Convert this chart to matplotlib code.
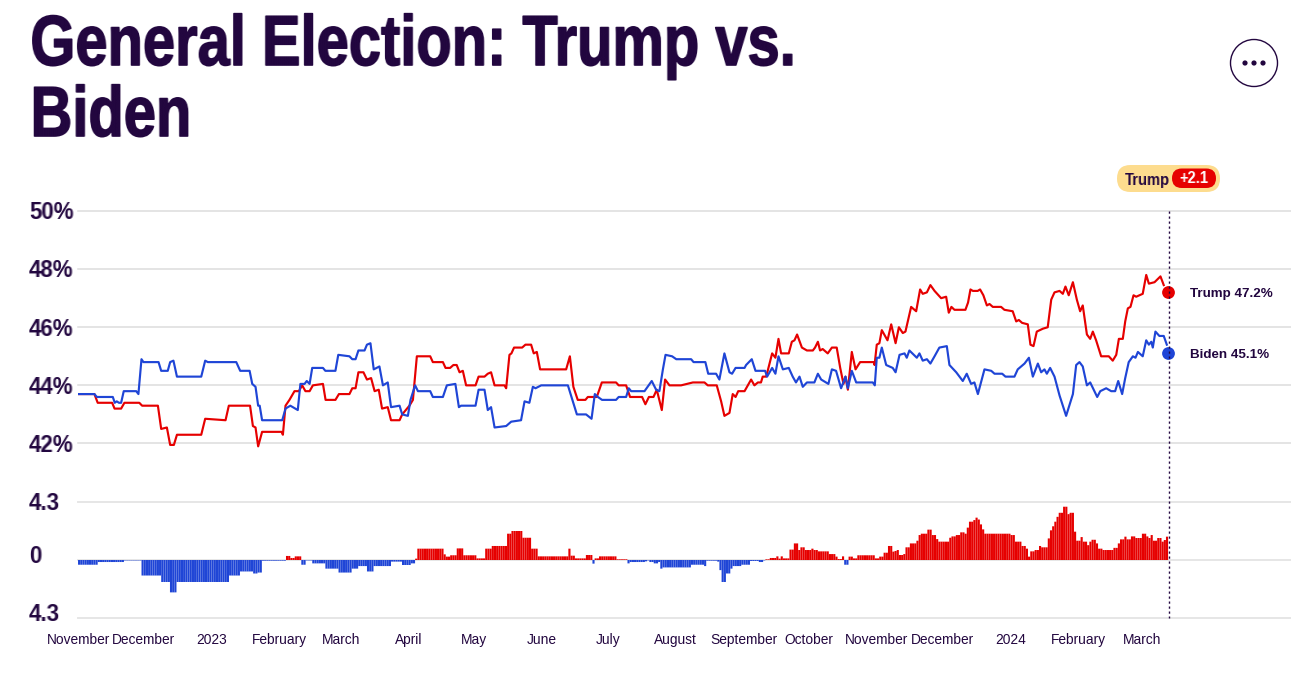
import matplotlib
matplotlib.use('Agg')
import matplotlib.pyplot as plt
import matplotlib.dates as mdates
import matplotlib.patheffects as pe
from matplotlib.patches import Circle, FancyBboxPatch
import numpy as np
from datetime import datetime

start = datetime(2022, 11, 1)

# days since start / poll average
trump_days = [0, 7.5, 9, 15.6, 16.7, 19.7, 21.2, 28, 29.3, 36.5, 38, 40.6, 42.1, 43.8, 45.2, 56.3, 58.1, 67.4, 68.9, 78.6,
              79.9, 81.1, 82.3, 84.1, 93, 93.6, 94.8, 96.6, 98.9, 100.9, 102.4, 103.9, 105.8, 107.3, 111.9, 113.1, 117.6,
              119.2, 124, 125.3, 126.8, 128.1, 130.4, 132, 133.9, 135.5, 137.4, 138.9, 141.5, 143, 146.9, 148.1, 151.4,
              153, 154.8, 160.9, 162.1, 166.7, 167.9, 170, 171.5, 173, 174.3, 175.8, 177.3, 181.6, 183, 185.7, 187.2,
              188.7, 190.3, 194.8, 195.6, 197.1, 198, 199.2, 202.9, 204.4, 207, 208.2, 209.6, 211.1, 223, 224.7, 226.3,
              228.3, 231.8, 232.9, 237, 239.3, 245.8, 247, 250.4, 252.2, 257.7, 259.2, 260.8, 262.9, 264.4, 266.7, 268.2,
              270.2, 275.5, 280.9, 286.2, 287.7, 291.8, 293.8, 295.3, 297.6, 299.1, 300.4, 301.6, 304.5, 306, 307.5, 309,
              310.6, 312, 312.8, 314.4, 317.1, 318.6, 320, 321.2, 324.7, 326.1, 327.3, 328.5, 330.7, 333, 335.7, 336.7,
              338, 339, 340.2, 342.5, 344.4, 346.6, 348.2, 349.7, 350.6, 351.7, 353.5, 355.2, 357.3, 363.6, 363.9, 364.9,
              366.1, 367.2, 368.7, 369.8, 371.5, 373.5, 375, 376.8, 378, 380.6, 382.9, 384.7, 385.9, 387.8, 389.4, 391.3,
              394.3, 396.6, 397.8, 399, 400.4, 405.4, 406.6, 407.7, 408.8, 411, 412.1, 413.6, 415.2, 416.4, 417.9, 421.7,
              423.2, 427, 428.6, 429.8, 431.3, 433.9, 435.1, 436.5, 438, 440.8, 443, 444.6, 446.1, 448.4, 449.9, 451.1,
              452.6, 454.5, 456.3, 457.8, 459, 460.9, 462.4, 463.6, 465.1, 467.4, 470.9, 472.7, 474.3, 475.5, 477.3,
              478.4, 479.6, 480.8, 482.2, 483.4, 486.4, 488, 489.2, 491.8, 494.5, 496]
trump_vals = [43.7, 43.7, 43.4, 43.4, 43.2, 43.2, 43.4, 43.4, 43.3, 43.3, 42.5, 42.55, 41.95, 41.95, 42.3, 42.3, 42.85, 42.8,
              43.3, 43.3, 42.6, 42.55, 41.9, 42.4, 42.4, 42.3, 43.3, 43.5, 43.8, 43.8, 44.0, 43.8, 43.8, 44.0, 44.05, 43.5,
              43.5, 43.7, 43.7, 43.9, 43.9, 44.45, 44.45, 44.2, 44.25, 43.8, 43.85, 43.2, 43.25, 42.8, 42.8, 43.0, 43.3,
              43.5, 45.0, 45.0, 44.8, 44.8, 44.6, 44.6, 44.7, 44.7, 44.45, 44.5, 44.0, 44.0, 44.3, 44.3, 44.4, 44.45, 44.0,
              44.0, 43.9, 45.05, 45.1, 45.3, 45.3, 45.4, 45.4, 45.1, 45.15, 44.55, 44.55, 45.0, 43.95, 43.5, 43.5, 43.6,
              43.6, 44.1, 44.1, 44.0, 44.0, 43.6, 43.6, 43.35, 43.6, 43.6, 43.85, 43.15, 44.2, 44.0, 44.0, 44.1, 44.1, 44.0,
              44.0, 43.45, 42.95, 43.05, 43.7, 43.6, 43.8, 43.8, 44.0, 44.2, 44.0, 44.1, 44.1, 44.3, 44.3, 45.1, 44.95,
              45.6, 45.1, 45.1, 45.5, 45.55, 45.75, 45.3, 45.2, 45.2, 45.3, 45.5, 45.2, 45.25, 45.1, 45.3, 45.3, 44.6, 44.05,
              44.3, 43.85, 45.15, 44.55, 44.8, 44.8, 44.7, 45.4, 45.45, 45.9, 45.7, 45.55, 46.1, 45.45, 46.0, 45.8, 45.85,
              46.7, 46.55, 47.3, 47.15, 47.2, 47.45, 47.25, 47.0, 47.05, 46.5, 46.7, 46.6, 46.6, 46.85, 47.3, 47.25, 47.25,
              47.3, 47.1, 46.75, 46.8, 46.7, 46.7, 46.6, 46.55, 46.2, 46.25, 46.15, 46.1, 45.4, 45.35, 45.85, 45.95, 46.0,
              46.95, 47.2, 47.25, 47.15, 47.4, 47.1, 47.55, 46.95, 46.55, 46.75, 45.75, 45.6, 45.85, 45.55, 45.0, 45.0,
              44.85, 45.05, 45.6, 45.6, 46.2, 46.65, 46.7, 47.1, 47.05, 47.15, 47.8, 47.5, 47.55, 47.75, 47.45]

biden_days = [0, 7.5, 8.6, 15.9, 16.8, 17.7, 18.7, 19.7, 20.9, 26.6, 27.6, 29, 29.9, 36.8, 38, 41, 42.1, 43.6, 45.2, 56.3,
              58.1, 59.3, 72.3, 74.1, 78.4, 79.6, 81.1, 82.3, 83, 84.1, 93.3, 94.8, 97, 100.4, 101.6, 103.5, 104.5, 105.8,
              107, 111.9, 113, 117.6, 118.9, 124, 125.3, 126.8, 128.1, 130.9, 132, 133.6, 135.1, 137.7, 139.3, 141.5, 143,
              146.9, 148.1, 150.7, 151.9, 154, 155.3, 160.9, 162.1, 166.7, 168.5, 172.4, 174, 175, 181.6, 183, 185.7, 187.2,
              188.7, 190.3, 195.6, 197.9, 202.4, 204, 206.2, 207.8, 209, 211.6, 223.8, 227.9, 232.1, 234.6, 236.1, 237.5,
              239.4, 245.8, 247, 250.4, 251.6, 252.7, 258.8, 262.1, 264.1, 265.6, 267.2, 268.4, 271.4, 273.3, 280.1, 281.2,
              286.6, 287.9, 291.5, 293, 295.3, 297.6, 298.8, 300.4, 304.5, 305.2, 307.8, 309.5, 313.9, 314.8, 317.1, 318.6,
              320, 322, 324.7, 326.5, 328, 329.6, 331.1, 333, 336.4, 338, 339.5, 342.8, 344.4, 346.3, 348.6, 350.6, 351.7,
              353.5, 355.5, 363.1, 364, 364.9, 366.1, 367.2, 369.2, 372.2, 373.5, 375.3, 377.6, 378.6, 379.8, 383.2, 384.4,
              385.9, 387.8, 389.4, 391.3, 393.5, 396.9, 398.1, 401.2, 404.2, 406, 408, 409.5, 411.1, 414.1, 417.2, 418.7,
              422.2, 423.7, 427.8, 429.3, 432.4, 434.4, 436.2, 438.5, 440, 441.5, 442.6, 444.1, 446.1, 448.4, 451.4, 454.5,
              456, 457.5, 459, 460.9, 462.4, 465.6, 467, 469.7, 472, 473.8, 475.2, 477, 478.4, 480, 481.9, 483.1, 484.2,
              486.4, 488, 489.2, 490.3, 491, 492.2, 494, 496, 497.4]
biden_vals = [43.7, 43.7, 43.6, 43.6, 43.4, 43.45, 43.4, 43.4, 43.8, 43.8, 43.7, 44.9, 44.8, 44.8, 44.5, 44.5, 44.8, 44.85,
              44.3, 44.3, 44.85, 44.8, 44.8, 44.5, 44.5, 44.05, 43.95, 43.3, 43.3, 42.8, 42.8, 43.2, 43.3, 43.15, 44.05,
              44.05, 44.15, 44.05, 44.6, 44.6, 44.5, 44.5, 45.05, 45.0, 44.9, 44.9, 45.2, 45.2, 45.4, 45.45, 44.55, 44.65,
              44.0, 44.1, 43.25, 43.3, 43.0, 42.95, 43.5, 44.0, 43.8, 43.8, 43.6, 43.6, 44.0, 44.05, 43.25, 43.3, 43.3,
              43.85, 43.85, 43.15, 43.25, 42.55, 42.6, 42.75, 42.8, 43.45, 43.4, 43.95, 43.9, 44.0, 44.0, 43.0, 43.0, 42.85,
              43.7, 43.6, 43.5, 43.5, 43.6, 43.6, 43.9, 43.8, 43.8, 44.15, 43.85, 43.8, 44.55, 45.05, 45.0, 44.9, 44.9, 44.8,
              44.8, 44.4, 44.4, 44.2, 45.1, 44.45, 44.4, 44.6, 44.6, 44.7, 44.9, 44.5, 44.5, 44.3, 44.6, 44.4, 45.0, 44.55,
              44.6, 44.3, 44.1, 44.3, 43.95, 44.1, 44.1, 44.4, 44.2, 44.05, 44.55, 44.5, 43.9, 44.3, 43.9, 44.5, 44.1, 44.1,
              44.0, 44.95, 44.95, 45.3, 44.7, 44.6, 44.45, 45.05, 45.1, 44.95, 45.2, 44.95, 45.1, 44.85, 44.9, 44.75, 45.0,
              45.3, 45.35, 44.7, 44.45, 44.15, 44.4, 44.05, 44.1, 43.7, 44.55, 44.5, 44.4, 44.4, 44.3, 44.3, 44.55, 44.75,
              44.95, 44.3, 44.75, 44.45, 44.55, 44.4, 44.6, 44.3, 43.65, 42.95, 43.7, 44.7, 44.8, 44.65, 44.0, 44.1, 43.6,
              43.8, 43.9, 43.8, 43.8, 44.15, 43.7, 44.25, 44.8, 45.0, 44.95, 45.15, 45.0, 45.55, 45.4, 45.5, 45.3, 45.85,
              45.7, 45.7, 45.4]

# margin bars: how many days each level lasts, and the level
margin_runs = [9, 12, 8, 9, 4, 3, 24, 5, 6, 2, 2, 11, 2, 2, 3, 2, 3, 6, 6, 6, 3, 4, 3, 8, 5, 4, 2, 1,
               12, 1, 2, 3, 3, 6, 4, 3, 7, 2, 5, 4, 3, 14, 1, 2, 5, 3, 1, 2, 8, 5, 1, 7, 1, 1, 2, 2, 1, 1, 13, 6, 1, 5, 1, 1, 2,
               2, 1, 4, 4, 4, 2, 1, 2, 3, 1, 1, 1, 3, 2, 2, 1, 2, 3, 1, 2, 5, 3, 1, 2, 1, 2, 2, 2, 8, 2, 2, 2, 2, 1, 1, 1, 2,
               1, 2, 3, 1, 1, 3, 2, 2, 1, 5, 1, 2, 2, 2, 1, 1, 2, 1, 1, 1, 1, 1, 12, 2, 3, 2, 1, 1, 2, 2, 1, 3, 1, 1, 1, 1, 1,
               2, 2, 1, 2, 1, 2, 1, 2, 1, 1, 2, 1, 2, 5, 2, 1, 2, 1, 2, 2, 3, 2, 1, 1, 1, 2, 2, 1, 1, 1]
margin_vals = [-0.35, -0.15, -0.03, -1.15, -1.63, -2.4, -1.63, -1.15, -0.85, -1.0, -0.93, -0.05, 0.3, 0.15, 0.27, -0.35,
               -0.03, -0.25, -0.64, -0.93, -0.64, -0.45, -0.85, -0.45, -0.12, -0.37, -0.25, 0.1,
               0.84, 0.42, 0.25, 0.35, 0.86, 0.35, 0.12, 0.84, 1.04, 1.95, 2.15, 1.65, 0.84, 0.27, 0.84, 0.32, 0.12, 0.37,
               -0.27, 0.12, 0.27, 0.05, -0.25, -0.15, -0.1, -0.03, -0.15, -0.25, -0.15, -0.64, -0.55, -0.35, -0.45, -0.05,
               -0.12, -0.75, -1.63, -1.0, -0.64, -0.45, -0.35, -0.07, -0.15, -0.03, 0.05, 0.15, 0.27, 0.1, 0.27, 0.12, 0.77,
               1.23, 0.74, 0.94, 0.74, 0.84, 0.74, 0.64, 0.44, 0.25, 0.07, 0.27, -0.35, 0.25, 0.12, 0.35, 0.12, 0.25, 0.54,
               1.04, 0.62, 0.67, 0.74, 0.37, 0.44, 0.94, 1.23, 1.43, 1.85, 1.95, 2.25, 1.85, 1.55, 1.36, 1.65, 1.75, 1.85,
               2.05, 1.95, 2.4, 2.84, 2.96, 3.14, 3.0, 2.64, 2.27, 1.95, 1.85, 1.36, 1.04, 0.84, 0.25, 0.64, 0.74, 1.04, 0.94,
               1.6, 2.2, 2.5, 2.84, 3.2, 3.5, 3.95, 3.4, 3.5, 2.1, 1.43, 1.7, 1.36, 1.1, 1.36, 1.5, 1.23, 0.84, 0.74, 0.9,
               1.23, 1.53, 1.73, 1.53, 1.75, 1.63, 1.95, 1.75, 1.63, 1.85, 1.43, 1.63, 1.36, 1.48, 1.73]

last_day = 498
trump_last = 47.2
biden_last = 45.1
trump_lead = '+2.1'

month_dates = [datetime(2022, 11, 1), datetime(2022, 12, 1), datetime(2023, 1, 1), datetime(2023, 2, 1), datetime(2023, 3, 1),
               datetime(2023, 4, 1), datetime(2023, 5, 1), datetime(2023, 6, 1), datetime(2023, 7, 1), datetime(2023, 8, 1),
               datetime(2023, 9, 1), datetime(2023, 10, 1), datetime(2023, 11, 1), datetime(2023, 12, 1), datetime(2024, 1, 1),
               datetime(2024, 2, 1), datetime(2024, 3, 1)]
month_labels = ['November', 'December', '2023', 'February', 'March', 'April', 'May', 'June', 'July', 'August',
                'September', 'October', 'November', 'December', '2024', 'February', 'March']
pct_ticks = [42, 44, 46, 48, 50]

RED = '#e60000'
BLUE = '#1f45d6'
INK = '#22063f'
W, H = 1291, 673

plt.rcParams['font.family'] = ['Liberation Sans', 'DejaVu Sans']


def squeeze(f):
    # no condensed font installed, so narrow the drawn text sideways
    def flt(img, dpi):
        h, w = img.shape[:2]
        nw = max(1, int(round(w * f)))
        pm = img.copy()
        pm[..., :3] *= pm[..., 3:]
        cs = np.concatenate([np.zeros((h, 1, 4)), np.cumsum(pm, axis=1)], axis=1)
        edges = np.arange(nw + 1) / f
        edges = np.minimum(edges, w)
        i = np.minimum(edges.astype(int), w - 1)
        fr = (edges - i)[None, :, None]
        vals = cs[:, i] * (1 - fr) + cs[:, i + 1] * fr
        out = (vals[:, 1:] - vals[:, :-1]) * f
        a = np.maximum(out[..., 3:], 1e-6)
        out[..., :3] = np.clip(out[..., :3] / a, 0, 1)
        return np.clip(out, 0, 1), 0, 0
    return flt


fig = plt.figure(figsize=(W / 100, H / 100), dpi=100)

def px_axes(left, top, right, bottom):
    return fig.add_axes([left / W, 1 - bottom / H, (right - left) / W, (bottom - top) / H])

t0 = mdates.date2num(start)
xlim = (t0, t0 + (W - 78) / 2.189)

ax1 = px_axes(78, 211, W, 458)
ax2 = px_axes(78, 502, W, 618)

ax1.plot(t0 + np.array(trump_days), trump_vals, color=RED, lw=1.55, solid_joinstyle='round', zorder=3)
ax1.plot(t0 + np.array(biden_days), biden_vals, color=BLUE, lw=1.55, solid_joinstyle='round', zorder=4)
ax1.plot([t0 + last_day], [trump_last], 'o', color=RED, ms=9.2, mec='none', zorder=5, clip_on=False)
ax1.plot([t0 + last_day], [biden_last], 'o', color=BLUE, ms=9.2, mec='none', zorder=5, clip_on=False)
ax1.set_xlim(xlim)
ax1.set_ylim(41.5, 50)
ax1.set_yticks(pct_ticks)
ax1.set_yticklabels([])
ax1.set_xticks([])
ax1.grid(axis='y', color='#dcdcdc', lw=1.1, clip_on=False)
ax1.set_axisbelow(True)
ax1.tick_params(length=0)
for s in ax1.spines.values():
    s.set_visible(False)

margin = np.repeat(margin_vals, margin_runs)
bar_x = t0 + np.arange(len(margin)) + 0.5
bars = ax2.bar(bar_x, margin, width=0.97, color=[RED if m > 0 else BLUE for m in margin], lw=0, zorder=3)
for b in bars:
    b.set_snap(False)
ax2.set_xlim(xlim)
ax2.set_ylim(-4.3, 4.3)
ax2.set_yticks([-4.3, 0, 4.3])
ax2.set_yticklabels([])
ax2.grid(axis='y', color='#e6e6e6', lw=1.4, clip_on=False)
ax2.set_axisbelow(True)
ax2.set_xticks(mdates.date2num(month_dates))
ax2.set_xticklabels(month_labels, fontsize=9.9, color=INK)
ax2.tick_params(length=0, pad=11)
for s in ax2.spines.values():
    s.set_visible(False)

# y labels sit left aligned in the margin
for v in pct_ticks:
    ax1.annotate('%d%%' % v, (0, v), xycoords=('axes fraction', 'data'), xytext=(-35.3, -1.3), textcoords='offset points',
                 ha='left', va='center', fontsize=17, fontweight='bold', color=INK, annotation_clip=False,
                 agg_filter=squeeze(0.97))
for v, lab, dy in [(4.3, '4.3', -0.8), (0, '0', 2.2), (-4.3, '4.3', 2.2)]:
    ax2.annotate(lab, (0, v), xycoords=('axes fraction', 'data'), xytext=(-35.3, dy), textcoords='offset points',
                 ha='left', va='center', fontsize=17, fontweight='bold', color=INK, annotation_clip=False,
                 agg_filter=squeeze(0.97))

# title, button, pill and end labels in pixel space
top = fig.add_axes([0, 0, 1, 1], zorder=10)
top.set_xlim(0, W)
top.set_ylim(H, 0)
top.axis('off')
top.patch.set_alpha(0)

for txt, y in [('General Election: Trump vs.', 65), ('Biden', 136)]:
    top.text(30, y, txt, fontsize=51, fontweight='bold', color=INK, va='baseline', agg_filter=squeeze(0.817),
             path_effects=[pe.withStroke(linewidth=1.2, foreground=INK)])

top.add_patch(Circle((1254, 63), 23.5, fc='white', ec=INK, lw=1))
for dx in [-9, 0, 9]:
    top.add_patch(Circle((1254 + dx, 63), 2.6, fc=INK, ec='none'))

top.plot([1168.5, 1168.5], [211, 618], color=INK, lw=1, ls=(0, (1.6, 2.0)), zorder=2)

top.add_patch(FancyBboxPatch((1117, 165), 103, 27, boxstyle='round,pad=0,rounding_size=13.5', fc='#fddc8e', ec='none'))
top.add_patch(FancyBboxPatch((1172, 168.5), 44, 19.5, boxstyle='round,pad=0,rounding_size=9.75', fc=RED, ec='none'))
top.text(1125, 180, 'Trump', fontsize=12.5, fontweight='bold', color=INK, va='center', ha='left', agg_filter=squeeze(0.84))
top.text(1179, 178.5, trump_lead, fontsize=11.5, fontweight='bold', color='white', va='center', ha='left', agg_filter=squeeze(0.92))

top.text(1190, 293.5, 'Trump %.1f%%' % trump_last, fontsize=9.6, color=INK, va='center', ha='left', fontweight='bold')
top.text(1190, 354.5, 'Biden %.1f%%' % biden_last, fontsize=9.6, color=INK, va='center', ha='left', fontweight='bold')

fig.savefig('out.png', dpi=100)
